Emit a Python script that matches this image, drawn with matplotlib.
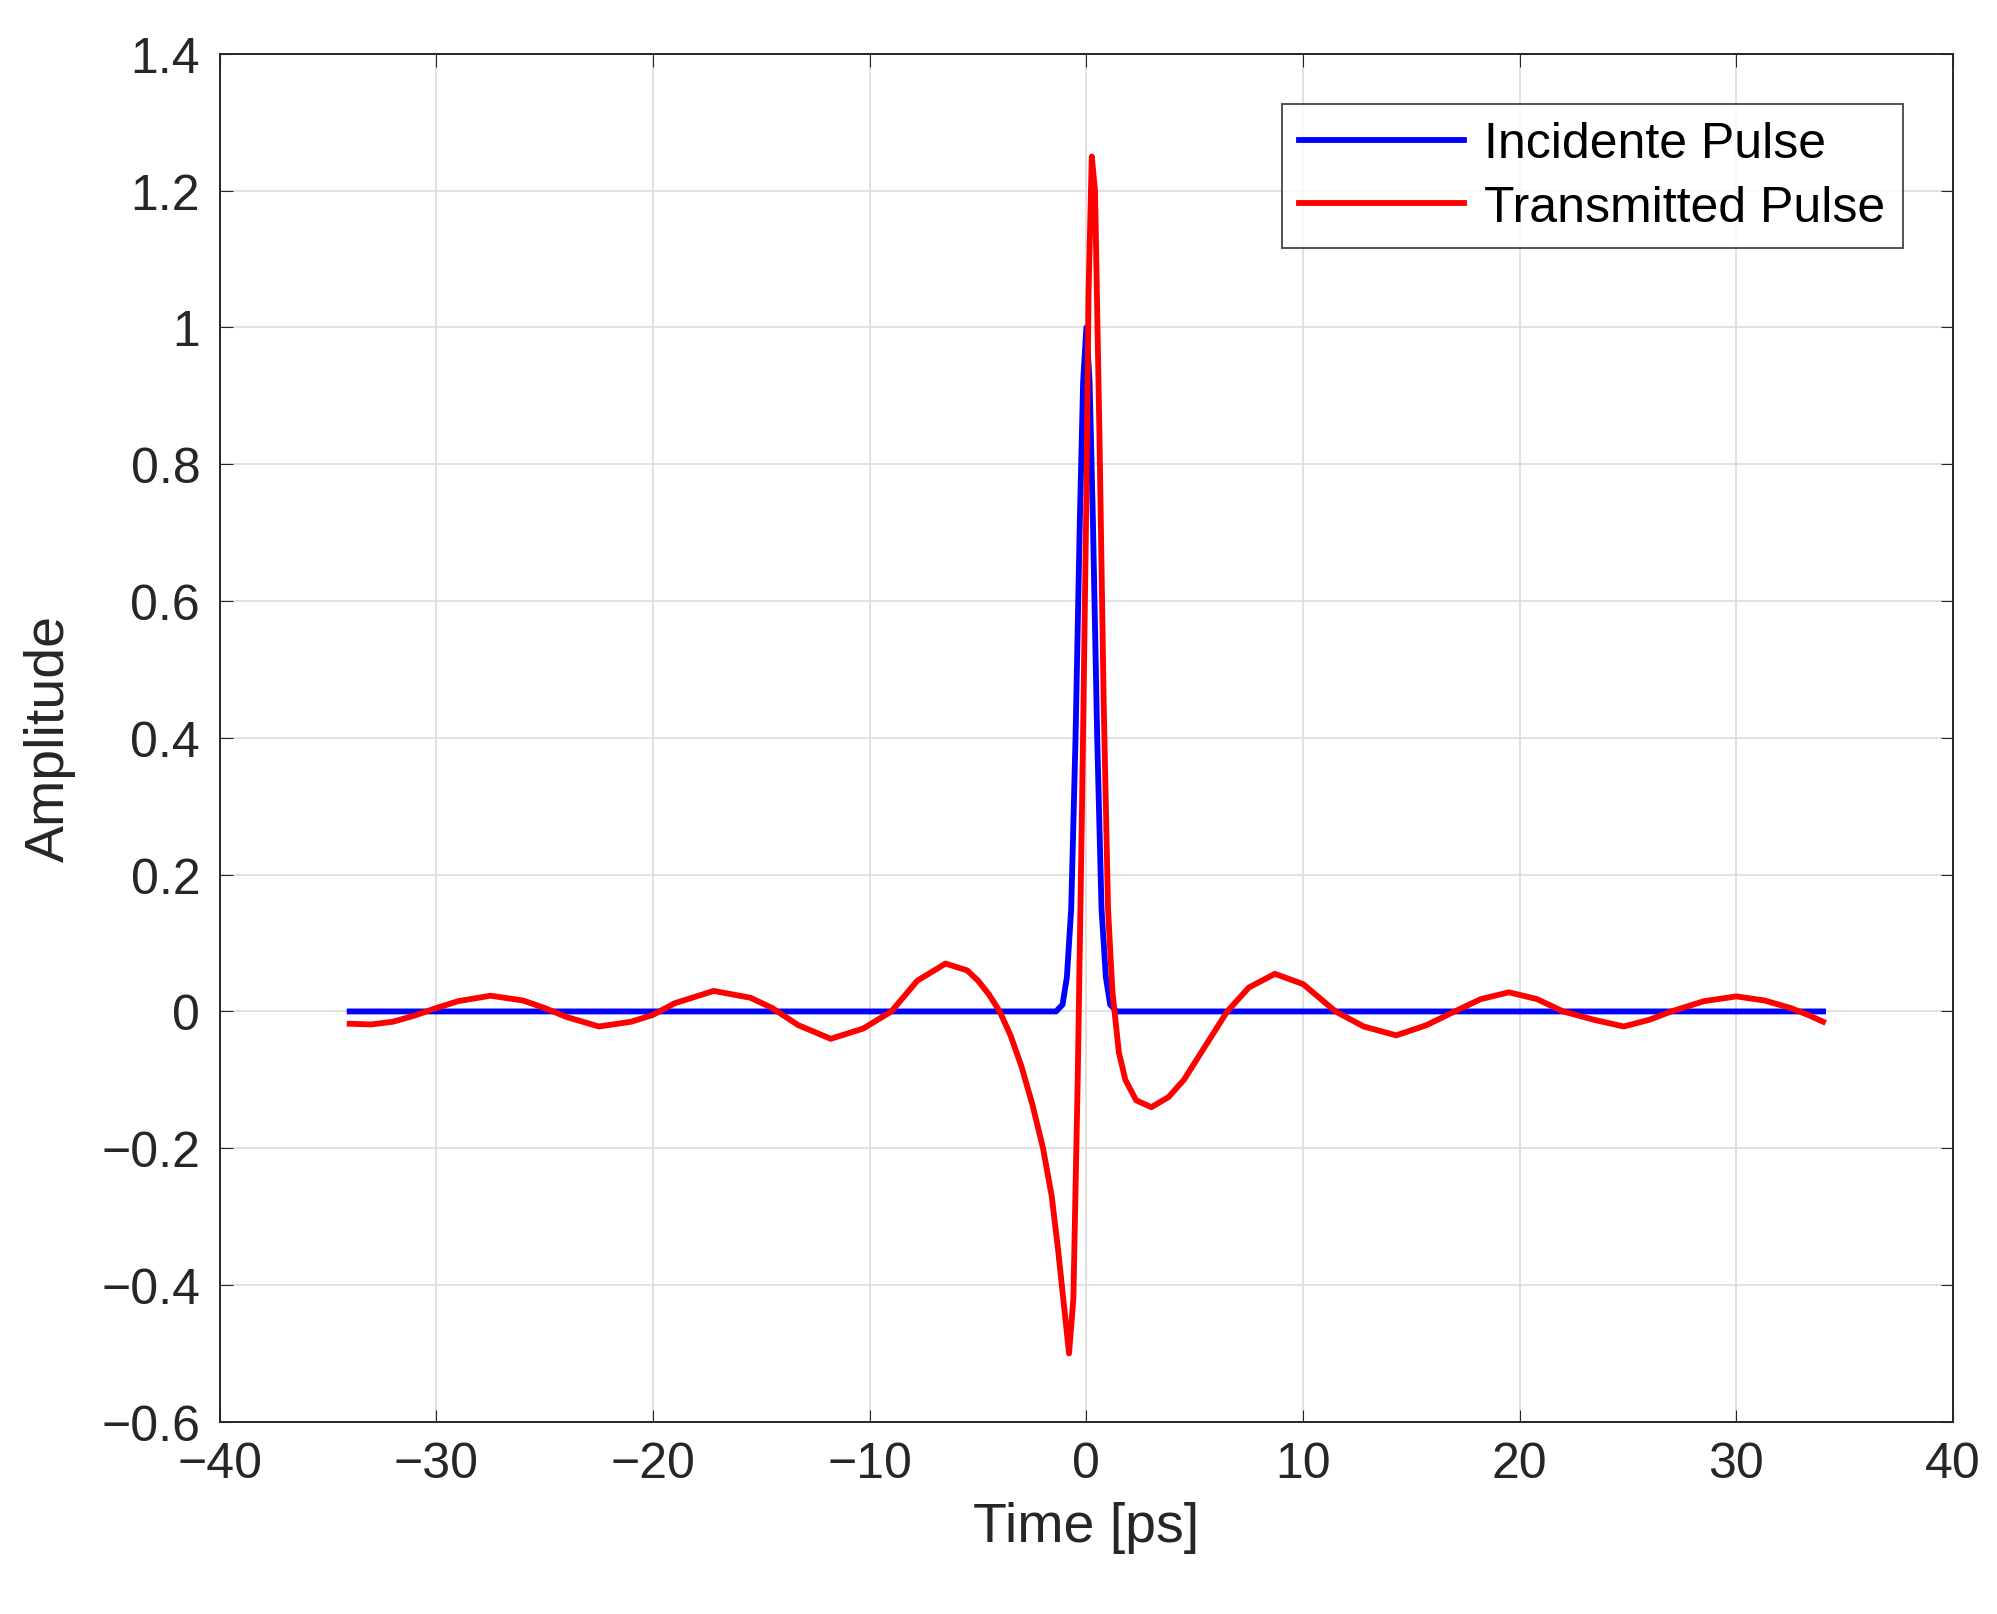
import matplotlib
matplotlib.use("Agg")
import matplotlib.pyplot as plt

plt.rcParams["font.family"] = "Liberation Sans"

t_inc = [-34, -1.4, -1.1, -0.9, -0.7, -0.5, -0.3, -0.15, 0, 0.15, 0.3, 0.5, 0.7, 0.9, 1.1, 1.4, 34]
a_inc = [0, 0, 0.01, 0.05, 0.15, 0.4, 0.72, 0.92, 1.0, 0.92, 0.72, 0.4, 0.15, 0.05, 0.01, 0, 0]

t_tr = [-34, -33, -32, -31, -30, -29, -27.5, -26, -25, -24, -22.5, -21, -20, -19, -17.2, -15.5,
        -14.5, -13.3, -11.8, -10.3, -9, -7.8, -6.5, -5.5, -5, -4.5, -4, -3.5, -3, -2.5, -2, -1.6,
        -1.3, -1.0, -0.8, -0.6, -0.4, -0.2, 0.0, 0.1, 0.25, 0.4, 0.6, 0.8, 1.0, 1.2, 1.5, 1.8, 2.3,
        3, 3.8, 4.5, 5.5, 6.5, 7.5, 8.7, 10, 11.5, 12.8, 14.3, 15.7, 17, 18.2, 19.5, 20.8, 22, 23.4,
        24.8, 26, 27, 28.5, 30, 31.3, 32.5, 33.3, 34]
a_tr = [-0.018, -0.019, -0.015, -0.006, 0.005, 0.015, 0.023, 0.016, 0.005, -0.008, -0.022, -0.015,
        -0.005, 0.012, 0.03, 0.02, 0.005, -0.02, -0.04, -0.025, 0.0, 0.045, 0.07, 0.06, 0.045, 0.025,
        0.0, -0.035, -0.08, -0.135, -0.2, -0.27, -0.35, -0.44, -0.5, -0.42, -0.1, 0.3, 0.75, 1.05,
        1.25, 1.2, 0.85, 0.45, 0.15, 0.03, -0.06, -0.1, -0.13, -0.14, -0.125, -0.1, -0.05, 0.0, 0.035,
        0.055, 0.04, 0.0, -0.022, -0.035, -0.02, 0.0, 0.018, 0.028, 0.018, 0.0, -0.012, -0.022, -0.012,
        0.0, 0.015, 0.022, 0.016, 0.005, -0.005, -0.015]

fig = plt.figure(figsize=(19.97, 16.15), dpi=100)
ax = fig.add_axes([0.110, 0.119, 0.868, 0.847])
ax.plot(t_inc, a_inc, color="#0000ff", lw=4.2, solid_joinstyle="round", label="Incidente Pulse")
ax.plot(t_tr, a_tr, color="#ff0000", lw=4.2, solid_joinstyle="round", label="Transmitted Pulse")
ax.set_xlim(-40, 40)
ax.set_ylim(-0.6, 1.4)
ax.set_xticks(range(-40, 41, 10))
ax.set_yticks([-0.6, -0.4, -0.2, 0, 0.2, 0.4, 0.6, 0.8, 1, 1.2, 1.4])
ax.set_xticklabels(["\u221240", "\u221230", "\u221220", "\u221210", "0", "10", "20", "30", "40"])
ax.set_yticklabels(["\u22120.6", "\u22120.4", "\u22120.2", "0", "0.2", "0.4", "0.6", "0.8", "1", "1.2", "1.4"])
ax.grid(True, color="#dcdcdc", lw=1.2)
ax.tick_params(labelsize=36, direction="in", length=9, pad=14, top=True, right=True, colors="#262626")
for s in ax.spines.values():
    s.set_color("#262626"); s.set_linewidth(1.4)
ax.set_xlabel("Time [ps]", fontsize=40, color="#262626", labelpad=10)
ax.set_ylabel("Amplitude", fontsize=40, color="#262626", labelpad=18)
leg = ax.legend(loc="upper right", fontsize=36, frameon=True, fancybox=False,
                handlelength=3.3, handletextpad=0.4, borderpad=0.35, labelspacing=0.35,
                borderaxespad=1.0, edgecolor="#262626")
leg.get_frame().set_linewidth(1.4)
fig.savefig("out.png")
